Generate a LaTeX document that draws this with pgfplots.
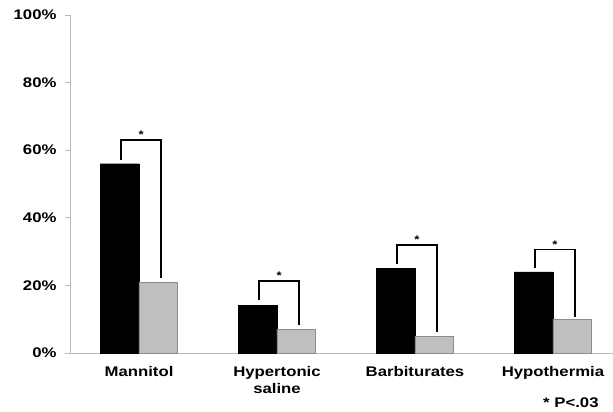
\documentclass[border=0pt]{standalone}
\usepackage{pgfplots}
\pgfplotsset{compat=1.18}
\usepackage{fontspec}
\setmainfont{Liberation Sans}[FakeStretch=1.2]
\begin{document}
\begin{tikzpicture}
\useasboundingbox (-70bp,-59bp) rectangle (543bp,353bp);
\begin{axis}[
 at={(0,0)}, anchor=south west, scale only axis,
 width=543bp, height=338bp,
 xmin=-0.5, xmax=3.435, ymin=0, ymax=100,
 axis x line=bottom, axis y line=left,
 axis line style={-, draw=gray!55, line width=0.8pt},
 xtick={0,1,2,3},
 xticklabels={Mannitol, {Hypertonic\\saline}, Barbiturates, Hypothermia},
 xticklabel style={align=center, font=\fontsize{14}{17}\selectfont\bfseries, yshift=-5bp},
 x tick style={draw=none},
 ytick={0,20,40,60,80,100},
 yticklabels={0\%,20\%,40\%,60\%,80\%,100\%},
 yticklabel style={font=\fontsize{14}{16}\selectfont\bfseries, xshift=-5bp},
 y tick style={draw=gray!55, line width=0.8pt},
 tick align=outside, major tick length=5bp,
 clip=false,
]
\addplot[ybar, bar width=0.28, bar shift=0pt, fill=black, draw=black] coordinates {(-0.14,56) (0.86,14) (1.86,25) (2.86,24)};
\addplot[ybar, bar width=0.28, bar shift=0pt, fill=gray!50, draw=gray!110!black, line width=0.8pt] coordinates {(0.14,21) (1.14,7) (2.14,5) (3.14,10)};
% brackets
\addplot[black, line width=1.4pt, mark=none] coordinates {(-0.13,57.1) (-0.13,63) (0.16,63) (0.16,22.2)};
\addplot[black, line width=1.4pt, mark=none] coordinates {(0.87,15.7) (0.87,21.3) (1.16,21.3) (1.16,8.3)};
\addplot[black, line width=1.4pt, mark=none] coordinates {(1.87,26.3) (1.87,32) (2.16,32) (2.16,6.3)};
\addplot[black, line width=1.4pt, mark=none] coordinates {(2.87,25.2) (2.87,30.7) (3.16,30.7) (3.16,10.7)};
\node[font=\fontsize{11}{11}\selectfont\bfseries, anchor=south, inner sep=1pt] at (axis cs:0.015,63) {*};
\node[font=\fontsize{11}{11}\selectfont\bfseries, anchor=south, inner sep=1pt] at (axis cs:1.015,21.3) {*};
\node[font=\fontsize{11}{11}\selectfont\bfseries, anchor=south, inner sep=1pt] at (axis cs:2.015,32) {*};
\node[font=\fontsize{11}{11}\selectfont\bfseries, anchor=south, inner sep=1pt] at (axis cs:3.015,30.7) {*};
\node[font=\fontsize{14}{15}\selectfont\bfseries] at (axis cs:3.13,-14.8) {* P<.03};
\end{axis}
\end{tikzpicture}
\end{document}
